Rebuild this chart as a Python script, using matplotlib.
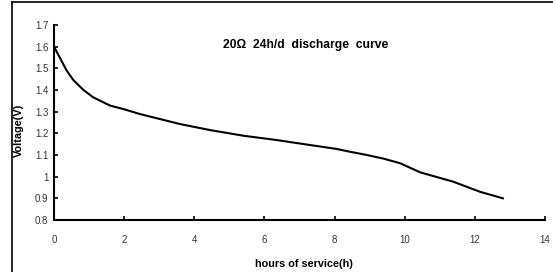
import matplotlib
matplotlib.use("Agg")
import matplotlib.pyplot as plt
from matplotlib.lines import Line2D

plt.rcParams['font.family'] = ['Liberation Sans', 'DejaVu Sans']

# discharge curve
hours = [0, 0.18, 0.36, 0.55, 0.84, 1.12, 1.6, 1.98, 2.45, 3.02, 3.59, 4.45,
         5.4, 6.35, 7.3, 8.06, 8.44, 8.92, 9.4, 9.87, 10.44, 11.38, 12.15, 12.8]
volts = [1.6, 1.545, 1.49, 1.446, 1.40, 1.366, 1.328, 1.312, 1.289, 1.266,
         1.243, 1.215, 1.189, 1.169, 1.146, 1.128, 1.115, 1.10, 1.083, 1.062, 1.02,
         0.977, 0.93, 0.90]
xticks = [0, 2, 4, 6, 8, 10, 12, 14]
yticks = [0.8, 0.9, 1, 1.1, 1.2, 1.3, 1.4, 1.5, 1.6, 1.7]
ytick_labels = ["0.8", "0.9", "1", "1.1", "1.2", "1.3", "1.4", "1.5", "1.6", "1.7"]

fig = plt.figure(figsize=(5.53, 2.72), dpi=100)
W, H = 553, 272
ax = fig.add_axes([54 / W, 1 - 220 / H, (545 - 54) / W, (220 - 25) / H])

ax.plot(hours, volts, color='black', lw=1.5)
ax.set_xlim(0, 14)
ax.set_ylim(0.8, 1.7)
ax.set_xticks(xticks)
ax.set_yticks(yticks)
ax.set_yticklabels(ytick_labels)
for s in ['top', 'right']:
    ax.spines[s].set_visible(False)
for s in ['left', 'bottom']:
    ax.spines[s].set_linewidth(1.5)
ax.tick_params(direction='in', length=3, width=1.2, labelsize=7, colors='black')
ax.tick_params(axis='x', pad=11, labelcolor='#333333')
ax.tick_params(axis='y', pad=4, labelcolor='#333333')

fig.text(306 / W, 1 - 45 / H, "20Ω  24h/d  discharge  curve", ha='center', va='center',
         fontsize=8.7, fontweight='bold')
fig.text(304 / W, 1 - 264 / H, "hours of service(h)", ha='center', va='center',
         fontsize=7.8, fontweight='bold')
fig.text(19 / W, 1 - 130 / H, "Voltage(V)", ha='center', va='center', rotation=90,
         fontsize=7.8, fontweight='bold')

# cropped outer frame: left and top edges only
fig.add_artist(Line2D([11.5 / W, 11.5 / W], [0, 1 - 2 / H], color='black', lw=1.2,
                      transform=fig.transFigure))
fig.add_artist(Line2D([11.5 / W, 1], [1 - 2 / H, 1 - 2 / H], color='black', lw=1.2,
                      transform=fig.transFigure))

fig.savefig("out.png", dpi=100)
